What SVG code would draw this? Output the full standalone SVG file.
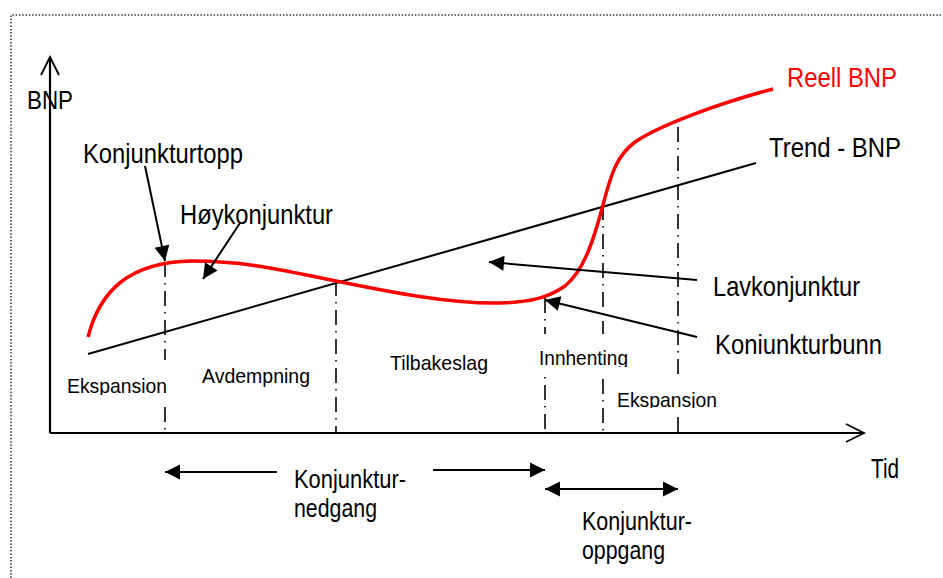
<svg xmlns="http://www.w3.org/2000/svg" width="943" height="578" viewBox="0 0 943 578">
<style>
  text { font-family: "Liberation Sans", Arial, sans-serif; fill: #000; }
  .lg { font-size: 28px; }
  .md { font-size: 26px; }
  .sm { font-size: 21px; }
  .red { fill: #ff0000; }
  .bg { fill: #fff; stroke: none; }
  .axis { stroke: #000; stroke-width: 2.2; fill: none; }
  .trend { stroke: #000; stroke-width: 2; fill: none; }
  .ptr { stroke: #000; stroke-width: 2; fill: none; }
  .dd { stroke: #000; stroke-width: 1.6; fill: none; stroke-dasharray: 15 6 1.5 6.5; }
  .border { stroke: #333; stroke-width: 1.5; fill: none; stroke-dasharray: 1.5 1.8; }
</style>
<defs>
  <marker id="fill" markerUnits="userSpaceOnUse" markerWidth="16" markerHeight="16" refX="15" refY="7.5" orient="auto-start-reverse" overflow="visible">
    <path d="M0,0 L15,7.5 L0,15 z" fill="#000"/>
  </marker>
  <marker id="open" markerUnits="userSpaceOnUse" markerWidth="20" markerHeight="20" refX="18" refY="9" orient="auto" overflow="visible">
    <path d="M0,0 L18,9 L0,18" fill="none" stroke="#000" stroke-width="1.8"/>
  </marker>
  <clipPath id="c1"><rect x="60" y="360" width="120" height="35"/></clipPath>
  <clipPath id="c2"><rect x="530" y="330" width="110" height="37"/></clipPath>
  <clipPath id="c3"><rect x="610" y="380" width="120" height="28"/></clipPath>
</defs>
<rect x="0" y="0" width="943" height="578" fill="#fff"/>
<path class="border" d="M11,578 L11,15 L941,15"/>

<g id="connectors">
  <path class="axis" d="M50,433 L50,57" marker-end="url(#open)"/>
  <path class="axis" d="M50,433 L864,433" marker-end="url(#open)"/>
  <path class="dd" d="M165,262 L165,432"/>
  <path class="dd" d="M336,281 L336,432"/>
  <path class="dd" d="M545,298 L545,432"/>
  <path class="dd" d="M603,205 L603,432"/>
  <path class="dd" d="M678,127 L678,432"/>
  <path class="trend" d="M88,354 L756,163"/>
  <path d="M88,337 C100,290 130,262 192,261 C250,261 290,272 336,281 C390,292 450,304 500,303 C530,302 548,298 565,286 C585,270 595,235 603,205 C612,170 618,155 635,142 C660,125 720,103 773,89" fill="none" stroke="#ff0000" stroke-width="3.5"/>
  <path class="ptr" d="M145,166 L165,261" marker-end="url(#fill)"/>
  <path class="ptr" d="M240,223 L203,279" marker-end="url(#fill)"/>
  <path class="ptr" d="M697,280 L489,262" marker-end="url(#fill)"/>
  <path class="ptr" d="M697,337 L545,300" marker-end="url(#fill)"/>
  <path class="ptr" d="M277,472 L165,472" marker-end="url(#fill)"/>
  <path class="ptr" d="M433,470 L545,470" marker-end="url(#fill)"/>
  <path class="ptr" d="M545,489 L678,489" marker-start="url(#fill)" marker-end="url(#fill)"/>
</g>

<g id="label-bnp"><text x="27" y="109" font-size="25" textLength="46" lengthAdjust="spacingAndGlyphs">BNP</text></g>
<g id="label-tid"><text class="lg" x="871" y="478" textLength="28" lengthAdjust="spacingAndGlyphs">Tid</text></g>
<g id="label-reell"><text class="lg red" x="787" y="87" textLength="110" lengthAdjust="spacingAndGlyphs">Reell BNP</text></g>
<g id="label-trend"><text class="lg" x="769" y="157" textLength="132" lengthAdjust="spacingAndGlyphs">Trend - BNP</text></g>
<g id="label-topp"><text class="lg" x="83" y="163" textLength="160" lengthAdjust="spacingAndGlyphs">Konjunkturtopp</text></g>
<g id="label-hoy"><text class="lg" x="180" y="224" textLength="153" lengthAdjust="spacingAndGlyphs">Høykonjunktur</text></g>
<g id="label-lav"><text class="lg" x="713" y="296" textLength="147" lengthAdjust="spacingAndGlyphs">Lavkonjunktur</text></g>
<g id="label-bunn"><text class="lg" x="715" y="354" textLength="167" lengthAdjust="spacingAndGlyphs">Koniunkturbunn</text></g>
<g id="phase-ekspansion1">
  <rect class="bg" x="60" y="360" width="112" height="43"/>
  <text class="sm" x="67" y="393" textLength="100" lengthAdjust="spacingAndGlyphs" clip-path="url(#c1)">Ekspansion</text>
</g>
<g id="phase-avdempning"><text class="sm" x="202" y="383" textLength="108" lengthAdjust="spacingAndGlyphs">Avdempning</text></g>
<g id="phase-tilbakeslag"><text class="sm" x="390" y="370" textLength="98" lengthAdjust="spacingAndGlyphs">Tilbakeslag</text></g>
<g id="phase-innhenting">
  <rect class="bg" x="535" y="334" width="97" height="40"/>
  <text class="sm" x="539" y="365" textLength="89" lengthAdjust="spacingAndGlyphs" clip-path="url(#c2)">Innhenting</text>
</g>
<g id="phase-ekspansjon2">
  <rect class="bg" x="612" y="374" width="110" height="38"/>
  <text class="sm" x="617" y="407" textLength="100" lengthAdjust="spacingAndGlyphs" clip-path="url(#c3)">Ekspansjon</text>
</g>
<g id="label-nedgang">
  <text class="md" x="294" y="488" textLength="112" lengthAdjust="spacingAndGlyphs">Konjunktur-</text>
  <text class="md" x="294" y="517" textLength="83" lengthAdjust="spacingAndGlyphs">nedgang</text>
</g>
<g id="label-oppgang">
  <text class="md" x="582" y="530" textLength="110" lengthAdjust="spacingAndGlyphs">Konjunktur-</text>
  <text class="md" x="582" y="559" textLength="83" lengthAdjust="spacingAndGlyphs">oppgang</text>
</g>
</svg>
